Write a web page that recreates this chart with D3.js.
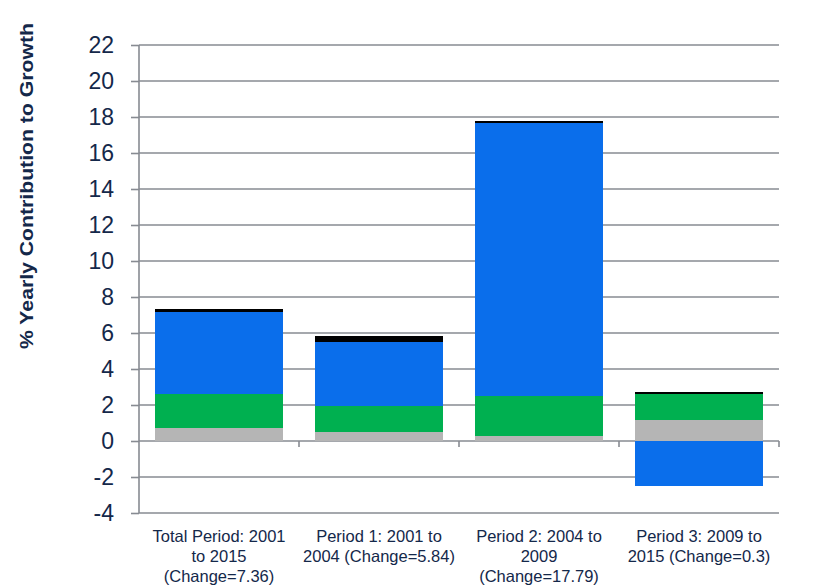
<!DOCTYPE html>
<html>
<head>
<meta charset="utf-8">
<script src="https://cdn.jsdelivr.net/npm/d3@7/dist/d3.min.js"></script>
<style>
  html, body { margin: 0; padding: 0; background: #ffffff; }
  svg { display: block; font-family: Arial, "Liberation Sans", sans-serif; }
</style>
</head>
<body>
<svg id="chart" width="814" height="585"></svg>
<script>
// ---- data ----
const categories = [
  ["Total Period: 2001", "to 2015", "(Change=7.36)"],
  ["Period 1: 2001 to", "2004 (Change=5.84)"],
  ["Period 2: 2004 to", "2009", "(Change=17.79)"],
  ["Period 3: 2009 to", "2015 (Change=0.3)"]
];
const categoryKeys = ["Total", "P1", "P2", "P3"];
const seriesNames = ["Component A", "Component B", "Component C", "Component D"];
const seriesGray  = [0.74, 0.50, 0.28, 1.17];
const seriesGreen = [1.87, 1.44, 2.20, 1.44];
const seriesBlue  = [4.55, 3.56, 15.20, -2.50];
const seriesBlack = [0.20, 0.35, 0.11, 0.11];
const yTicks = [-4, -2, 0, 2, 4, 6, 8, 10, 12, 14, 16, 18, 20, 22];
const yTitle = "% Yearly Contribution  to Growth";

// ---- styles ----
const colors = ["#b5b5b5", "#00b050", "#0a6eeb", "#000000"];
const textColor = "#14284a";
const gridColor = "#878b92";

const margin = { left: 139, right: 35, top: 45, bottom: 72 };
const W = 814, H = 585;

const rows = categoryKeys.map((k, i) => ({
  key: k,
  [seriesNames[0]]: seriesGray[i],
  [seriesNames[1]]: seriesGreen[i],
  [seriesNames[2]]: seriesBlue[i],
  [seriesNames[3]]: seriesBlack[i]
}));

const svg = d3.select("#chart");

const x = d3.scaleBand()
  .domain(categoryKeys)
  .range([margin.left, W - margin.right])
  .paddingInner(0.2)
  .paddingOuter(0.1);

const y = d3.scaleLinear()
  .domain([-4, 22])
  .range([H - margin.bottom, margin.top]);

// gridlines
svg.append("g")
  .selectAll("line")
  .data(yTicks)
  .join("line")
  .attr("x1", margin.left)
  .attr("x2", W - margin.right)
  .attr("y1", d => y(d))
  .attr("y2", d => y(d))
  .attr("stroke", gridColor)
  .attr("stroke-width", 1.6);

// stacked bars
const stack = d3.stack()
  .keys(seriesNames)
  .offset(d3.stackOffsetDiverging);
const stacked = stack(rows);

svg.append("g")
  .selectAll("g")
  .data(stacked)
  .join("g")
  .attr("fill", (d, i) => colors[i])
  .selectAll("rect")
  .data(d => d)
  .join("rect")
  .attr("shape-rendering", "crispEdges")
  .attr("x", d => x(d.data.key))
  .attr("width", x.bandwidth())
  .attr("y", d => y(Math.max(d[0], d[1])))
  .attr("height", d => Math.abs(y(d[0]) - y(d[1])));

// y axis (line + ticks via d3 axis, labels drawn separately)
const yAxis = d3.axisLeft(y)
  .tickValues(yTicks)
  .tickSize(8)
  .tickFormat("");
const gy = svg.append("g")
  .attr("transform", `translate(${margin.left},0)`)
  .call(yAxis);
gy.select(".domain").attr("stroke", gridColor).attr("stroke-width", 1.6)
  .attr("d", `M0,${y(22)}V${y(-4)}`);
gy.selectAll(".tick line").attr("stroke", gridColor).attr("stroke-width", 1.6);

svg.append("g")
  .selectAll("text")
  .data(yTicks)
  .join("text")
  .attr("x", 114)
  .attr("y", d => y(d))
  .attr("dy", "0.36em")
  .attr("text-anchor", "end")
  .attr("fill", textColor)
  .style("font-size", "23px")
  .style("font-family", "Arial, 'Liberation Sans', sans-serif")
  .text(d => String(d));

// x axis at zero with downward category separators
const boundaries = categoryKeys.map(k => x(k) + x.bandwidth() / 2 + x.step() / 2);
svg.append("g")
  .selectAll("line")
  .data(boundaries)
  .join("line")
  .attr("x1", d => d).attr("x2", d => d)
  .attr("y1", y(0)).attr("y2", y(0) + 6)
  .attr("stroke", gridColor)
  .attr("stroke-width", 1.6);

// category labels
const labels = svg.append("g")
  .selectAll("text")
  .data(categories)
  .join("text")
  .attr("text-anchor", "middle")
  .attr("fill", textColor)
  .style("font-size", "16.5px")
  .attr("x", (d, i) => x(categoryKeys[i]) + x.bandwidth() / 2)
  .attr("y", 542);
labels.selectAll("tspan")
  .data(d => d)
  .join("tspan")
  .attr("x", function() { return d3.select(this.parentNode).attr("x"); })
  .attr("dy", (d, i) => i === 0 ? 0 : 20)
  .text(d => d);

// y title
svg.append("text")
  .attr("transform", `translate(33,186) rotate(-90)`)
  .attr("text-anchor", "middle")
  .attr("fill", textColor)
  .style("font-size", "19px")
  .style("font-weight", "bold")
  .attr("textLength", 326)
  .attr("lengthAdjust", "spacingAndGlyphs")
  .text(yTitle);
</script>
</body>
</html>
